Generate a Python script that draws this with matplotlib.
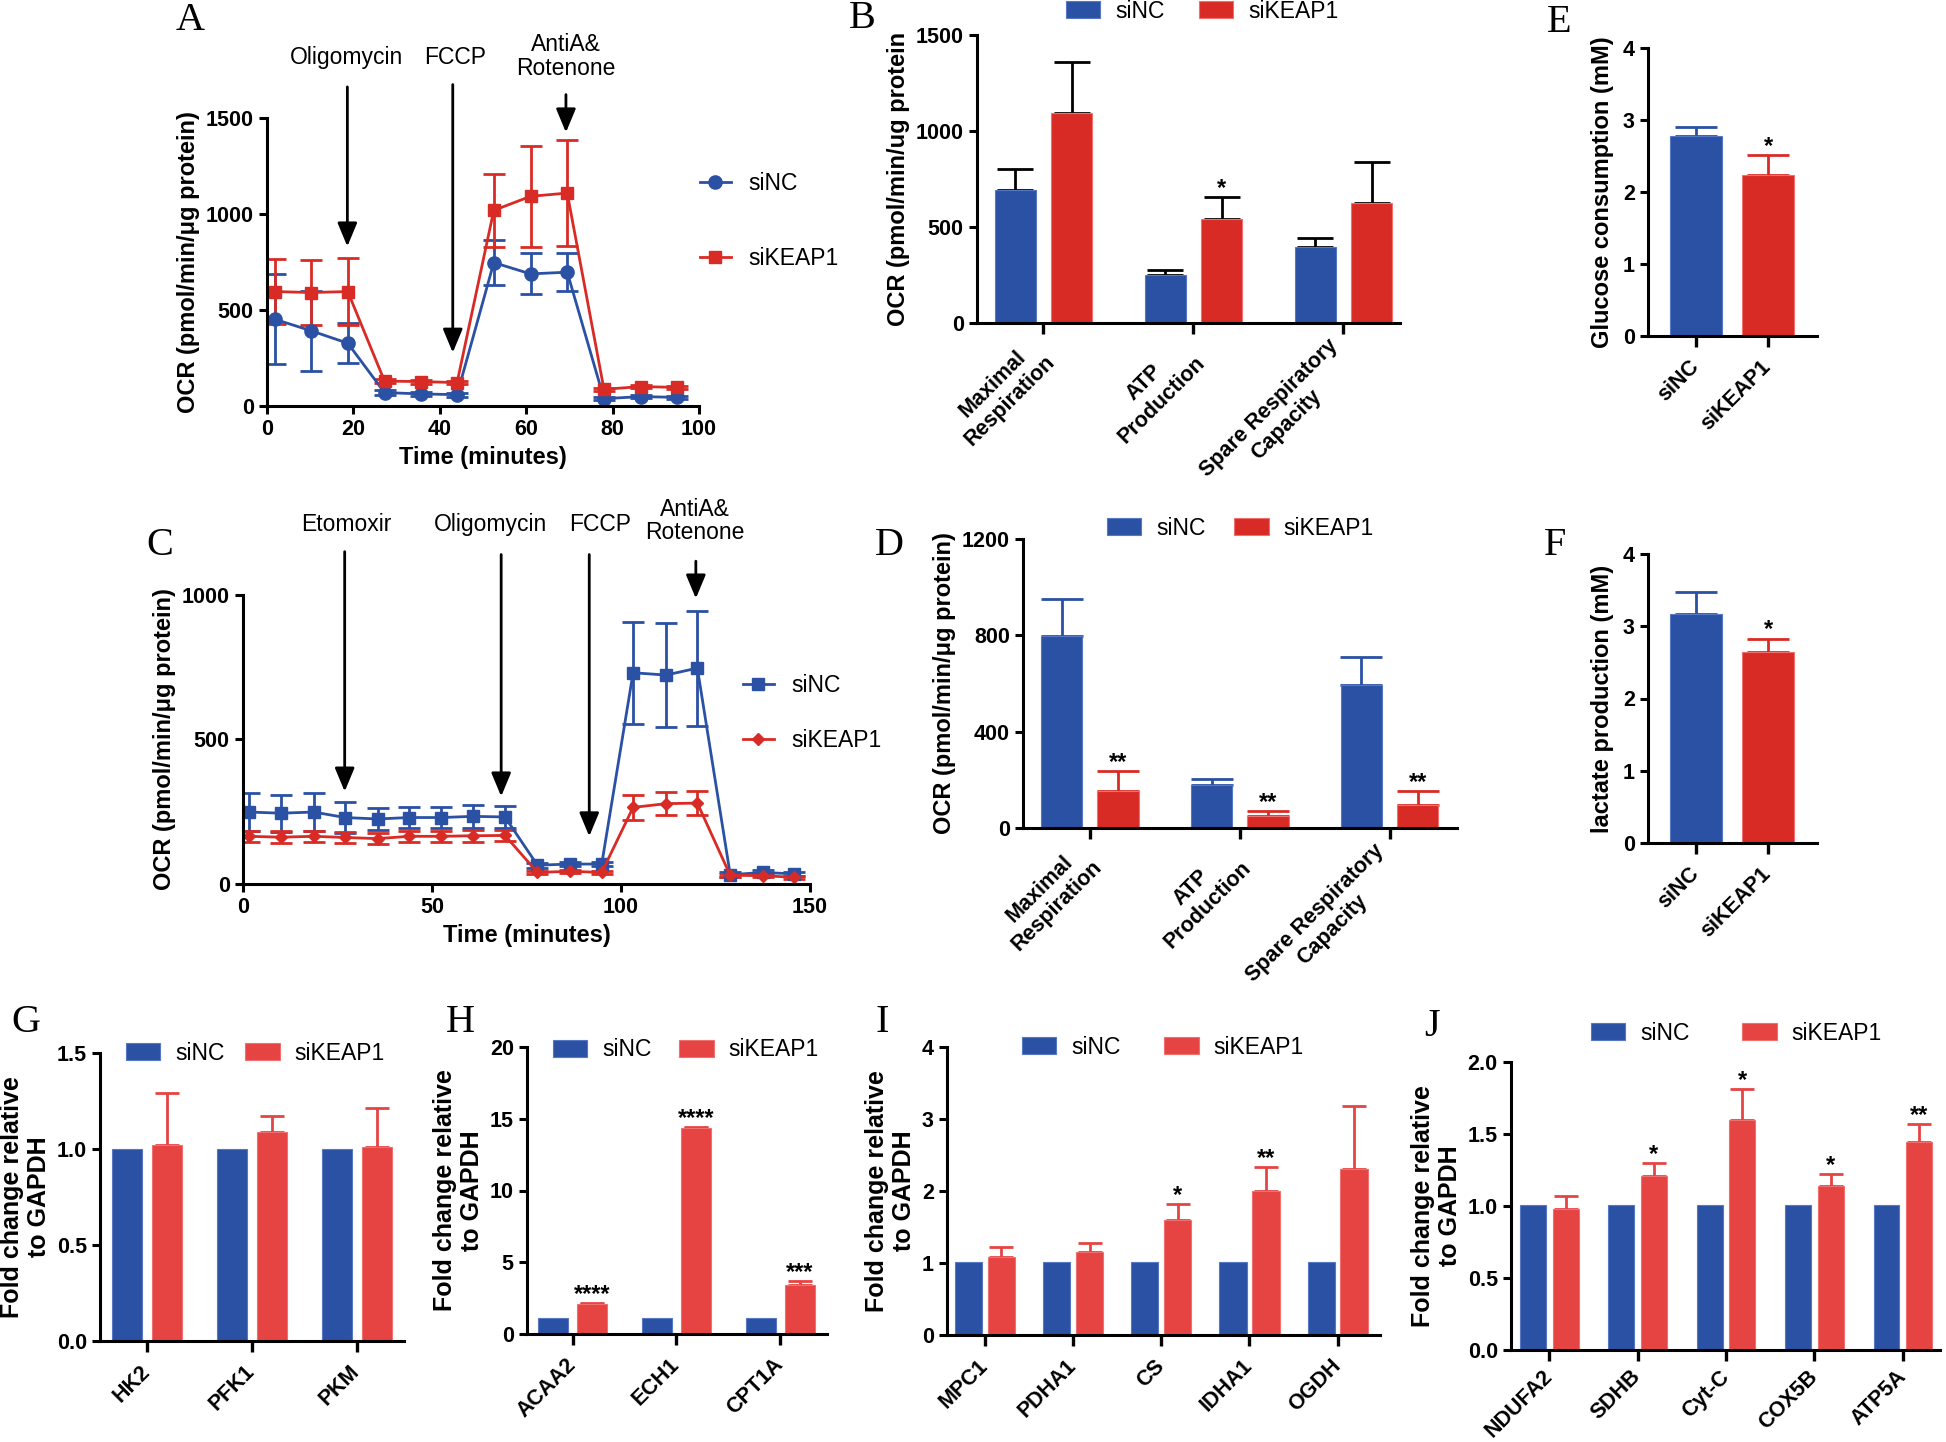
import matplotlib
matplotlib.use("Agg")
import matplotlib.pyplot as plt
from matplotlib.patches import Patch
from matplotlib.lines import Line2D
import numpy as np

W, H = 1946, 1442

BLUE = "#2a51a3"
RED = "#d92b25"
RED2 = "#e54443"
SANS = ["Liberation Sans", "DejaVu Sans"]
NARROW = ["Liberation Sans Narrow", "Liberation Sans", "DejaVu Sans"]
SERIF = ["Liberation Serif", "DejaVu Serif"]

plt.rcParams["font.family"] = SANS
plt.rcParams["axes.linewidth"] = 2.2

TICK_FS = 15.5
LABEL_FS = 17
LEG_FS = 16.5
STAR_FS = 17

# ---------- panel A: OCR time course ----------
a_time = [1.8, 10.3, 18.7, 27.2, 35.6, 44.0, 52.5, 61.0, 69.5, 78.0, 86.5, 95.0]
a_nc = [452, 391, 327, 70, 63, 59, 747, 688, 697, 38, 49, 45]
a_nc_err = [235, 208, 105, 12, 10, 10, 115, 107, 100, 8, 8, 8]
a_keap = [596, 591, 596, 130, 127, 122, 1019, 1092, 1109, 87, 101, 97]
a_keap_err = [170, 170, 174, 12, 10, 10, 189, 264, 278, 8, 8, 8]
a_inj = ["Oligomycin", "FCCP", "AntiA&\nRotenone"]
a_inj_x = [18.6, 43.0, 69.2]
a_inj_label_x = [18.3, 43.5, 69.2]

# ---------- panel C: OCR time course with etomoxir ----------
c_time = [1.7, 10.0, 18.7, 27.0, 35.6, 43.9, 52.3, 60.8, 69.3, 77.9, 86.5, 94.9,
          103.2, 111.9, 120.2, 128.9, 137.5, 145.8]
c_nc = [249, 245, 249, 230, 225, 230, 230, 234, 232, 65, 69, 69, 731, 723, 747, 32, 40, 35]
c_nc_err = [67, 64, 67, 55, 39, 36, 36, 40, 37, 8, 8, 8, 177, 180, 199, 8, 8, 8]
c_keap = [165, 162, 165, 161, 157, 165, 165, 167, 168, 40, 44, 40, 265, 278, 280, 30, 29, 23]
c_keap_err = [18, 20, 18, 20, 20, 20, 20, 20, 18, 6, 6, 6, 42, 40, 42, 6, 6, 6]
c_inj = ["Etomoxir", "Oligomycin", "FCCP", "AntiA&\nRotenone"]
c_inj_x = [26.9, 68.3, 91.6, 119.8]
c_inj_label_x = [27.2, 65.6, 94.6, 119.6]

# ---------- bar panels ----------
resp_cats = ["Maximal\nRespiration", "ATP\nProduction", "Spare Respiratory\nCapacity"]
b_nc = [694, 250, 395]
b_nc_err = [107, 24, 47]
b_keap = [1092, 541, 624]
b_keap_err = [269, 114, 214]
b_stars = ["", "*", ""]

d_nc = [796, 177, 592]
d_nc_err = [155, 26, 117]
d_keap = [152, 48, 97]
d_keap_err = [86, 21, 58]
d_stars = ["**", "**", "**"]

group_cats = ["siNC", "siKEAP1"]
e_vals = [2.78, 2.24]
e_err = [0.12, 0.27]
f_vals = [3.17, 2.65]
f_err = [0.31, 0.18]

g_cats = ["HK2", "PFK1", "PKM"]
g_nc = [1.0, 1.0, 1.0]
g_keap = [1.02, 1.09, 1.013]
g_keap_err = [0.27, 0.08, 0.2]
g_stars = ["", "", ""]

h_cats = ["ACAA2", "ECH1", "CPT1A"]
h_nc = [1.1, 1.1, 1.1]
h_keap = [2.11, 14.37, 3.43]
h_keap_err = [0.04, 0.07, 0.27]
h_stars = ["****", "****", "***"]

i_cats = ["MPC1", "PDHA1", "CS", "IDHA1", "OGDH"]
i_nc = [1.02, 1.02, 1.02, 1.02, 1.02]
i_keap = [1.09, 1.15, 1.6, 2.0, 2.31]
i_keap_err = [0.13, 0.13, 0.22, 0.33, 0.87]
i_stars = ["", "", "*", "**", ""]

j_cats = ["NDUFA2", "SDHB", "Cyt-C", "COX5B", "ATP5A"]
j_nc = [1.006, 1.006, 1.006, 1.006, 1.006]
j_keap = [0.976, 1.21, 1.595, 1.14, 1.445]
j_keap_err = [0.094, 0.09, 0.215, 0.08, 0.125]
j_stars = ["", "*", "*", "*", "**"]

fig = plt.figure(figsize=(W / 100, H / 100), dpi=100)


def px_axes(x0, y0, x1, y1):
    """axes from pixel box: left, top, right, bottom"""
    ax = fig.add_axes([x0 / W, 1 - y1 / H, (x1 - x0) / W, (y1 - y0) / H])
    ax.spines["top"].set_visible(False)
    ax.spines["right"].set_visible(False)
    ax.tick_params(direction="out", length=6, width=2.2, labelsize=TICK_FS)
    ax.patch.set_alpha(0)
    return ax


def fx(x):
    return x / W


def fy(y):
    return 1 - y / H


def letter(s, x, y):
    fig.text(fx(x), fy(y), s, family=SERIF, fontsize=29, ha="center", va="center")


def bold_ticks(ax):
    for lab in ax.get_xticklabels() + ax.get_yticklabels():
        lab.set_fontweight("bold")


def star(ax, x, top, s):
    ax.annotate(s, (x, top), xytext=(0, 1.5), textcoords="offset points",
                ha="center", va="baseline", fontsize=STAR_FS, fontweight="bold")


def inject(ax, labels, xs, tops, tips, label_x, label_y, fs=16.5):
    for x, top, tip in zip(xs, tops, tips):
        ax.annotate("", xy=(x, tip), xytext=(x, top), annotation_clip=False,
                    arrowprops=dict(arrowstyle="-|>,head_length=0.72,head_width=0.3",
                                    mutation_scale=20, lw=2, color="black",
                                    shrinkA=0, shrinkB=0))
    for lab, x, ly in zip(labels, label_x, label_y):
        ax.text(x, ly, lab, family=NARROW, fontsize=fs, ha="center", va="bottom",
                linespacing=1.05, clip_on=False)


def line_legend(ax, handles, labels, x, y, spacing):
    ax.legend(handles, labels, loc="center left", bbox_to_anchor=(fx(x), fy(y)),
              bbox_transform=fig.transFigure, frameon=False, fontsize=LEG_FS,
              handlelength=1.35, handletextpad=0.75, labelspacing=spacing,
              borderpad=0, borderaxespad=0)


def bar_legend(ax, x, y, red, colsp):
    handles = [Patch(facecolor=BLUE, edgecolor="#5577c4", lw=0.8),
               Patch(facecolor=red, edgecolor="#f07070", lw=0.8)]
    ax.legend(handles, ["siNC", "siKEAP1"], loc="center left", ncol=2,
              bbox_to_anchor=(fx(x), fy(y)), bbox_transform=fig.transFigure,
              frameon=False, fontsize=LEG_FS, handlelength=1.5, handleheight=0.8,
              handletextpad=0.65, columnspacing=colsp, borderpad=0, borderaxespad=0)


def grouped(ax, cats, nc, keap, nc_err, keap_err, stars, red, width, off, cap,
            err_nc_color, err_keap_color, xlim, pad=12):
    x = np.arange(len(cats))
    ax.bar(x - off, nc, width, color=BLUE, edgecolor="#5577c4", lw=0.8, zorder=2)
    ax.bar(x + off, keap, width, color=red, edgecolor="#f07070", lw=0.8, zorder=2)
    if nc_err is not None:
        ax.errorbar(x - off, nc, yerr=[np.zeros(len(nc)), nc_err], fmt="none",
                    ecolor=err_nc_color, elinewidth=2, capsize=cap, capthick=2, zorder=1)
    ax.errorbar(x + off, keap, yerr=[np.zeros(len(keap)), keap_err], fmt="none",
                ecolor=err_keap_color, elinewidth=2, capsize=cap, capthick=2, zorder=1)
    for xi, v, e, s in zip(x, keap, keap_err, stars):
        if s:
            star(ax, xi + off, v + e, s)
    ax.set_xticks(x)
    ax.set_xlim(*xlim)
    ax.tick_params(axis="x", length=8, width=2.4, pad=pad)
    ax.set_xticklabels(cats, rotation=45, ha="right", va="center",
                       rotation_mode="anchor", fontsize=TICK_FS, fontweight="bold",
                       multialignment="center")


def two_bars(ax, vals, errs, ylabel):
    x = np.arange(len(group_cats))
    ax.bar(x, vals, 0.72, color=[BLUE, RED], edgecolor=["#5577c4", "#f07070"],
           lw=0.8, zorder=2)
    for xi, v, e, c in zip(x, vals, errs, [BLUE, RED]):
        ax.errorbar(xi, v, yerr=[[0], [e]], fmt="none", ecolor=c, elinewidth=2,
                    capsize=15, capthick=2, zorder=1)
    star(ax, 1, vals[1] + errs[1], "*")
    ax.set_xlim(-0.67, 1.68)
    ax.set_ylim(0, 4)
    ax.set_yticks([0, 1, 2, 3, 4])
    ax.set_xticks(x)
    ax.set_xticklabels(group_cats, rotation=45, ha="right", va="center",
                       rotation_mode="anchor", fontsize=TICK_FS, fontweight="bold")
    ax.tick_params(axis="x", length=8, width=2.4, pad=12)
    ax.set_ylabel(ylabel, fontsize=LABEL_FS, fontweight="bold", labelpad=6)
    bold_ticks(ax)


# ===== A =====
ax = px_axes(267, 118, 699, 406)
ax.errorbar(a_time, a_nc, yerr=a_nc_err, color=BLUE, marker="o", ms=9.5, lw=2,
            elinewidth=2, capsize=8, capthick=2)
ax.errorbar(a_time, a_keap, yerr=a_keap_err, color=RED, marker="s", ms=8.5, lw=2,
            elinewidth=2, capsize=8, capthick=2)
ax.set_xlim(0, 100)
ax.set_ylim(0, 1500)
ax.set_xticks([0, 20, 40, 60, 80, 100])
ax.set_yticks([0, 500, 1000, 1500])
ax.set_xlabel("Time (minutes)", fontsize=LABEL_FS, fontweight="bold", labelpad=4)
ax.set_ylabel("OCR (pmol/min/\u03bcg protein)", fontsize=LABEL_FS, fontweight="bold",
              labelpad=4)
bold_ticks(ax)
inject(ax, a_inj, a_inj_x, [1662, 1674, 1622], [831, 278, 1425], a_inj_label_x,
       [1755, 1755, 1700])
line_legend(ax, [Line2D([], [], color=BLUE, marker="o", ms=9.5, lw=2),
                 Line2D([], [], color=RED, marker="s", ms=8.5, lw=2)],
            ["siNC", "siKEAP1"], 700, 221, 2.25)
letter("A", 190, 20)

# ===== B =====
ax = px_axes(977, 35, 1400, 323)
grouped(ax, resp_cats, b_nc, b_keap, b_nc_err, b_keap_err, b_stars, RED,
        0.275, 0.188, 13, "black", "black", (-0.443, 2.378))
ax.set_ylim(0, 1500)
ax.set_yticks([0, 500, 1000, 1500])
ax.set_ylabel("OCR (pmol/min/ug protein", fontsize=LABEL_FS, fontweight="bold", labelpad=4)
bold_ticks(ax)
bar_legend(ax, 1066, 11, RED, 1.5)
letter("B", 862, 19)

# ===== E =====
ax = px_axes(1648, 48, 1817, 336)
two_bars(ax, e_vals, e_err, "Glucose consumption (mM)")
letter("E", 1559, 22)

# ===== C =====
ax = px_axes(243, 595, 810, 884)
ax.errorbar(c_time, c_nc, yerr=c_nc_err, color=BLUE, marker="s", ms=8.5, lw=2,
            elinewidth=2, capsize=8, capthick=2)
ax.errorbar(c_time, c_keap, yerr=c_keap_err, color=RED, marker="D", ms=6, lw=2,
            elinewidth=2, capsize=8, capthick=2)
ax.set_xlim(0, 150)
ax.set_ylim(0, 1000)
ax.set_xticks([0, 50, 100, 150])
ax.set_yticks([0, 500, 1000])
ax.set_xlabel("Time (minutes)", fontsize=LABEL_FS, fontweight="bold", labelpad=4)
ax.set_ylabel("OCR (pmol/min/\u03bcg protein)", fontsize=LABEL_FS, fontweight="bold",
              labelpad=4)
bold_ticks(ax)
inject(ax, c_inj, c_inj_x, [1150, 1140, 1140, 1117], [320, 303, 165, 988],
       c_inj_label_x, [1205, 1205, 1205, 1175])
line_legend(ax, [Line2D([], [], color=BLUE, marker="s", ms=8.5, lw=2),
                 Line2D([], [], color=RED, marker="D", ms=6, lw=2)],
            ["siNC", "siKEAP1"], 743, 713, 1.4)
letter("C", 160, 545)

# ===== D =====
ax = px_axes(1023, 539, 1457, 828)
grouped(ax, resp_cats, d_nc, d_keap, d_nc_err, d_keap_err, d_stars, RED,
        0.276, 0.188, 15, BLUE, RED, (-0.447, 2.45))
ax.set_ylim(0, 1200)
ax.set_yticks([0, 400, 800, 1200])
ax.set_ylabel("OCR (pmol/min/\u03bcg protein)", fontsize=LABEL_FS, fontweight="bold",
              labelpad=4)
bold_ticks(ax)
bar_legend(ax, 1107, 528, RED, 1.25)
letter("D", 889, 545)

# ===== F =====
ax = px_axes(1648, 554, 1817, 843)
two_bars(ax, f_vals, f_err, "lactate production (mM)")
letter("F", 1555, 545)

# ===== G-J =====
fold_label = "Fold change relative\nto GAPDH"


def fold_axes(ax, ylim, yticks, yticklabels):
    ax.set_ylim(*ylim)
    ax.set_yticks(yticks)
    if yticklabels is not None:
        ax.set_yticklabels(yticklabels)
    ax.set_ylabel(fold_label, fontsize=18, fontweight="bold", labelpad=4, linespacing=1.15)
    bold_ticks(ax)


ax = px_axes(100, 1053, 404, 1341)
grouped(ax, g_cats, g_nc, g_keap, None, g_keap_err, g_stars, RED2,
        0.29, 0.19, 8.5, BLUE, RED2, (-0.45, 2.45))
fold_axes(ax, (0, 1.5), [0, 0.5, 1.0, 1.5], ["0.0", "0.5", "1.0", "1.5"])
bar_legend(ax, 126, 1053, RED2, 0.9)
letter("G", 26, 1023)

ax = px_axes(527, 1047, 827, 1334)
grouped(ax, h_cats, h_nc, h_keap, None, h_keap_err, h_stars, RED2,
        0.29, 0.19, 8.5, BLUE, RED2, (-0.44, 2.45))
fold_axes(ax, (0, 20), [0, 5, 10, 15, 20], None)
bar_legend(ax, 553, 1050, RED2, 1.2)
letter("H", 460, 1022)

ax = px_axes(947, 1047, 1380, 1335)
grouped(ax, i_cats, i_nc, i_keap, None, i_keap_err, i_stars, RED2,
        0.31, 0.187, 8.5, BLUE, RED2, (-0.43, 4.48))
fold_axes(ax, (0, 4), [0, 1, 2, 3, 4], None)
bar_legend(ax, 1022, 1047, RED2, 1.9)
letter("I", 882, 1022)

ax = px_axes(1511, 1062, 1940, 1350)
grouped(ax, j_cats, j_nc, j_keap, None, j_keap_err, j_stars, RED2,
        0.293, 0.185, 8.5, BLUE, RED2, (-0.432, 4.42), pad=9)
fold_axes(ax, (0, 2.0), [0, 0.5, 1.0, 1.5, 2.0], ["0.0", "0.5", "1.0", "1.5", "2.0"])
bar_legend(ax, 1591, 1033, RED2, 2.3)
letter("J", 1432, 1027)

fig.savefig("out.png", dpi=100)
